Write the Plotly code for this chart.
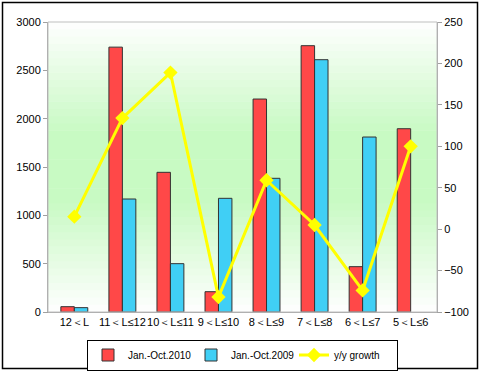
import plotly.graph_objects as go

categories = ["12＜L", "11＜L≤12", "10＜L≤11", "9＜L≤10", "8＜L≤9", "7＜L≤8", "6＜L≤7", "5＜L≤6"]
sales_2010 = [55, 2740, 1445, 210, 2203, 2755, 469, 1896]
sales_2009 = [45, 1169, 500, 1176, 1383, 2610, 1810, None]
growth = [15, 134, 189, -82, 59, 5, -74, 100]

fig = go.Figure()
fig.add_trace(go.Bar(x=categories, y=sales_2010, name="Jan.-Oct.2010",
                     marker=dict(color="#FF4848", line=dict(color="#333333", width=1))))
fig.add_trace(go.Bar(x=categories, y=sales_2009, name="Jan.-Oct.2009",
                     marker=dict(color="#40CFF5", line=dict(color="#333333", width=1))))
fig.add_trace(go.Scatter(x=categories, y=growth, name="y/y growth", yaxis="y2",
                         mode="lines+markers",
                         line=dict(color="#FFFF00", width=3),
                         marker=dict(symbol="diamond", size=11, color="#FFFF00")))

# gradient background strips
shapes = []
n = 40
for i in range(n):
    f0 = i / n
    f1 = (i + 1) / n
    fm = (f0 + f1) / 2
    peak = 0.5
    if fm <= peak:
        t = fm / peak
    else:
        t = (1 - fm) / (1 - peak)
    t = min(1, t * 1.3)
    r = int(255 - (255 - 200) * t)
    g = int(255 - (255 - 250) * t)
    b = int(255 - (255 - 195) * t)
    shapes.append(dict(type="rect", xref="x domain", yref="y domain",
                       x0=0, x1=1, y0=f0, y1=f1 + 0.002, layer="below",
                       line=dict(width=0), fillcolor=f"rgb({r},{g},{b})"))
# plot area border
shapes.append(dict(type="rect", xref="paper", yref="paper", x0=0, x1=1, y0=0, y1=1,
                   line=dict(color="#C0C0C0", width=1), layer="above"))
# outer chart border
shapes.append(dict(type="rect", xref="paper", yref="paper",
                   x0=(2.5 - 48) / 389, x1=(477.5 - 48) / 389,
                   y0=(312 - 368.5) / 290, y1=(312 - 2.5) / 290,
                   line=dict(color="#000000", width=1.5)))

font = "Liberation Sans, Arial, sans-serif"
fig.update_layout(
    width=480, height=371,
    margin=dict(l=48, r=43, t=22, b=59, autoexpand=False),
    paper_bgcolor="white",
    plot_bgcolor="rgba(0,0,0,0)",
    font=dict(family=font, size=11, color="#000000"),
    barmode="group", bargap=0.44, bargroupgap=0,
    showlegend=True,
    legend=dict(orientation="h", x=0.5, xanchor="center",
                yref="container", y=(371 - 355) / 371, yanchor="middle",
                bordercolor="#000000", borderwidth=1, bgcolor="white",
                font=dict(size=10), itemwidth=30, entrywidth=58, entrywidthmode="pixels",
                tracegroupgap=0),
    xaxis=dict(showgrid=False, showline=True, linecolor="#A0A0A0",
               ticks="", tickfont=dict(size=11), tickangle=0, automargin=False),
    yaxis=dict(range=[0, 3000], dtick=500, showgrid=False, showline=True,
               linecolor="#A0A0A0", ticks="outside", ticklen=4, tickcolor="#A0A0A0",
               zeroline=False, tickfont=dict(size=11), automargin=False),
    yaxis2=dict(range=[-100, 250], dtick=50, overlaying="y", side="right",
                showgrid=False, showline=True, linecolor="#A0A0A0",
                ticks="outside", ticklen=4, tickcolor="#A0A0A0",
                zeroline=False, tickfont=dict(size=11), automargin=False),
    shapes=shapes,
)

fig.write_html("out.html", config={"displayModeBar": False},
               post_script="document.body.style.margin='0';")
